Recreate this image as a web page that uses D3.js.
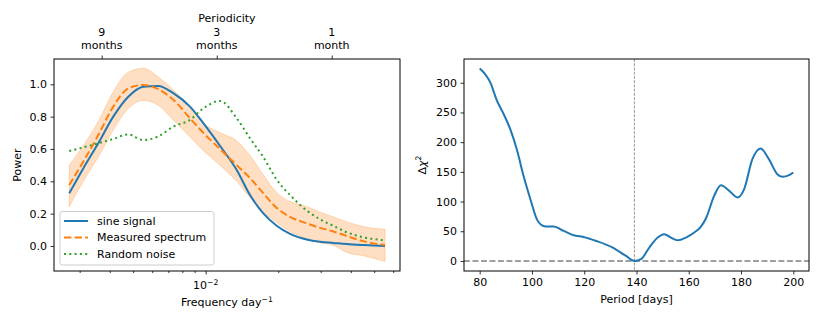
<!DOCTYPE html>
<html><head><meta charset="utf-8">
<script src="https://cdn.jsdelivr.net/npm/d3@7"></script>
<style>
body{margin:0;background:#fff;}
svg text{font-family:"DejaVu Sans",sans-serif;fill:#000;}
</style></head>
<body><svg id="c" width="822" height="329"></svg>
<script>
// ---- Left panel data ----
const freq = [0.002716,0.003105,0.003584,0.004136,0.004774,0.005509,0.006358,0.007337,0.008607,0.009773,0.01146,0.01345,0.01527,0.01734,0.01971,0.02238,0.02625,0.02981,0.03385,0.03847,0.04508,0.05546];
const sineSignal = [0.326,0.48,0.635,0.80,0.923,0.985,0.99,0.945,0.862,0.76,0.62,0.47,0.315,0.202,0.125,0.075,0.04,0.026,0.019,0.012,0.006,0.0];
const measured = [0.377,0.521,0.686,0.862,0.975,0.996,0.97,0.905,0.79,0.70,0.60,0.50,0.42,0.326,0.235,0.18,0.14,0.112,0.09,0.062,0.03,0.006];
const randomNoise = [0.587,0.61,0.635,0.662,0.69,0.655,0.678,0.738,0.78,0.851,0.897,0.79,0.666,0.55,0.41,0.315,0.22,0.165,0.125,0.085,0.054,0.035];
const bandHigh = [0.50,0.62,0.77,0.954,1.075,1.099,1.045,0.965,0.86,0.76,0.70,0.65,0.56,0.44,0.33,0.275,0.245,0.21,0.18,0.15,0.12,0.103];
const bandLow = [0.243,0.40,0.55,0.717,0.85,0.90,0.87,0.78,0.675,0.59,0.50,0.40,0.30,0.21,0.145,0.09,0.045,0.02,0.005,-0.04,-0.06,-0.095];
const powerTicks = [0,0.2,0.4,0.6,0.8,1.0];
const freqMajor = [0.01];
const freqMinor = [0.003,0.004,0.005,0.006,0.007,0.008,0.009,0.02,0.03,0.04,0.05,0.06];
const periodDays = [270,90,30];
const periodNum = ["9","3","1"];
const periodUnit = ["months","months","month"];
const legendLabels = ["sine signal","Measured spectrum","Random noise"];

// ---- Right panel data ----
const periodGrid = [80,82,84,86.6,89.2,91.7,94.2,96.8,99.4,101.9,104.4,106,108.3,112.1,115.9,119.7,124.6,130.9,136,139.2,141.7,144.9,148.1,150.6,153.2,155.7,158.9,162.1,164.5,166.6,169.7,172.3,175.5,178.6,181.2,184.3,187.5,190.7,193.9,195.8,198.4,200];
const deltaChi2 = [324,315,301,270,247,222,188,143,104,70,59,58,58,50.6,43.3,40.4,33.7,22.6,8.4,0,2.9,22.6,39.4,45,39.4,34.9,39.4,47.9,57,72,109.6,127.6,118,106.9,121,171,189.4,171,146,141.6,144.5,149];
const bestPeriod = 139.2;
const periodTicks = [80,100,120,140,160,180,200];
const chiTicks = [0,50,100,150,200,250,300];

const svg = d3.select("#c");
const FS = 11;
const yTop = 59, yBot = 271;

// ===== Left panel =====
const L = {x0:54, x1:400};
const xL = d3.scaleLog().domain([0.002348,0.06399]).range([L.x0,L.x1]);
const yL = d3.scaleLinear().domain([-0.1546,1.1565]).range([yBot,yTop]);
const gL = svg.append("g");

const idx = d3.range(freq.length);
gL.append("path").datum(idx)
  .attr("d", d3.area().x(i=>xL(freq[i])).y0(i=>yL(bandLow[i])).y1(i=>yL(bandHigh[i])).curve(d3.curveMonotoneX))
  .attr("fill","#ff7f0e").attr("fill-opacity",0.25).attr("stroke","#ff7f0e").attr("stroke-opacity",0.25).attr("stroke-width",1);

const seriesL = [
  {v:sineSignal, color:"#1f77b4", dash:null},
  {v:measured, color:"#ff7f0e", dash:"7.4,3.2"},
  {v:randomNoise, color:"#2ca02c", dash:"2,3.3"}
];
seriesL.forEach(s=>{
  gL.append("path").datum(idx)
    .attr("d", d3.line().x(i=>xL(freq[i])).y(i=>yL(s.v[i])).curve(d3.curveMonotoneX))
    .attr("fill","none").attr("stroke",s.color).attr("stroke-width",2)
    .attr("stroke-dasharray",s.dash);
});

function styleAxis(g){
  g.select(".domain").remove();
  g.selectAll(".tick line").attr("stroke","#000").attr("stroke-width",0.8);
  g.selectAll(".tick text").attr("font-size",FS).attr("font-family","DejaVu Sans").attr("fill","#000");
}
// y axis
gL.append("g").attr("transform",`translate(${L.x0},0)`)
  .call(d3.axisLeft(yL).tickValues(powerTicks).tickFormat(d3.format(".1f")).tickSize(3.5).tickPadding(3.5))
  .call(styleAxis);
// bottom major
gL.append("g").attr("transform",`translate(0,${yBot})`)
  .call(d3.axisBottom(xL).tickValues(freqMajor).tickFormat(()=>"").tickSize(3.5))
  .call(styleAxis);
gL.append("g").attr("transform",`translate(0,${yBot})`)
  .call(d3.axisBottom(xL).tickValues(freqMinor).tickFormat(()=>"").tickSize(2))
  .call(styleAxis);
freqMajor.forEach(f=>{
  const t = gL.append("text").attr("x",xL(f)).attr("y",289).attr("text-anchor","middle").attr("font-size",FS);
  t.append("tspan").text("10");
  t.append("tspan").attr("dy",-4.5).attr("font-size",7.7).text("\u22122");
});
// top axis
gL.append("g").attr("transform",`translate(0,${yTop})`)
  .call(d3.axisTop(xL).tickValues(periodDays.map(d=>1/d)).tickFormat(()=>"").tickSize(3.5))
  .call(styleAxis);
periodDays.forEach((d,i)=>{
  gL.append("text").attr("x",xL(1/d)).attr("y",36).attr("text-anchor","middle").attr("font-size",FS).text(periodNum[i]);
  gL.append("text").attr("x",xL(1/d)).attr("y",48.5).attr("text-anchor","middle").attr("font-size",FS).text(periodUnit[i]);
});
gL.append("text").attr("x",(L.x0+L.x1)/2).attr("y",22).attr("text-anchor","middle").attr("font-size",FS).text("Periodicity");
// x label
const xl = gL.append("text").attr("x",(L.x0+L.x1)/2).attr("y",306).attr("text-anchor","middle").attr("font-size",FS);
xl.append("tspan").text("Frequency day");
xl.append("tspan").attr("dy",-4.5).attr("font-size",7.7).text("\u22121");
// y label
gL.append("text").attr("transform",`translate(20.5,${(yTop+yBot)/2}) rotate(-90)`).attr("text-anchor","middle").attr("font-size",FS).text("Power");
// frame
gL.append("rect").attr("x",L.x0).attr("y",yTop).attr("width",L.x1-L.x0).attr("height",yBot-yTop)
  .attr("fill","none").attr("stroke","#000").attr("stroke-width",1);

// legend
const lg = gL.append("g");
lg.append("rect").attr("x",60).attr("y",211.5).attr("width",154).attr("height",53.5).attr("rx",2.5)
  .attr("fill","#fff").attr("fill-opacity",0.8).attr("stroke","#cccccc").attr("stroke-width",1);
legendLabels.forEach((lab,i)=>{
  const yy = 221 + i*16.5;
  lg.append("line").attr("x1",64).attr("x2",88).attr("y1",yy).attr("y2",yy)
    .attr("stroke",seriesL[i].color).attr("stroke-width",2).attr("stroke-dasharray",seriesL[i].dash);
  lg.append("text").attr("x",97).attr("y",yy+3.9).attr("font-size",FS).text(lab);
});

// ===== Right panel =====
const R = {x0:464, x1:809};
const xR = d3.scaleLinear().domain([74,206]).range([R.x0,R.x1]);
const yR = d3.scaleLinear().domain([-16.9,340]).range([yBot,yTop]);
const gR = svg.append("g");

gR.append("line").attr("x1",xR(bestPeriod)).attr("x2",xR(bestPeriod)).attr("y1",yTop).attr("y2",yBot)
  .attr("stroke","#808080").attr("stroke-width",0.8).attr("stroke-dasharray","2.96,1.28");
gR.append("line").attr("x1",R.x0).attr("x2",R.x1).attr("y1",yR(0)).attr("y2",yR(0))
  .attr("stroke","#808080").attr("stroke-width",1.6).attr("stroke-dasharray","5.9,2.6");

gR.append("path").datum(d3.range(periodGrid.length))
  .attr("d", d3.line().x(i=>xR(periodGrid[i])).y(i=>yR(deltaChi2[i])).curve(d3.curveMonotoneX))
  .attr("fill","none").attr("stroke","#1f77b4").attr("stroke-width",2);

gR.append("g").attr("transform",`translate(${R.x0},0)`)
  .call(d3.axisLeft(yR).tickValues(chiTicks).tickFormat(d3.format("d")).tickSize(3.5).tickPadding(3.5))
  .call(styleAxis);
gR.append("g").attr("transform",`translate(0,${yBot})`)
  .call(d3.axisBottom(xR).tickValues(periodTicks).tickFormat(d3.format("d")).tickSize(3.5).tickPadding(3.5))
  .call(styleAxis);
gR.append("text").attr("x",(R.x0+R.x1)/2).attr("y",303).attr("text-anchor","middle").attr("font-size",FS).text("Period [days]");
const yl = gR.append("text").attr("transform",`translate(425.5,${(yTop+yBot)/2}) rotate(-90)`).attr("text-anchor","middle").attr("font-size",FS);
yl.append("tspan").text("\u0394");
yl.append("tspan").attr("font-style","italic").text("\u03c7");
yl.append("tspan").attr("dy",-4.5).attr("font-size",7.7).text("2");
gR.append("rect").attr("x",R.x0).attr("y",yTop).attr("width",R.x1-R.x0).attr("height",yBot-yTop)
  .attr("fill","none").attr("stroke","#000").attr("stroke-width",1);
</script></body></html>
